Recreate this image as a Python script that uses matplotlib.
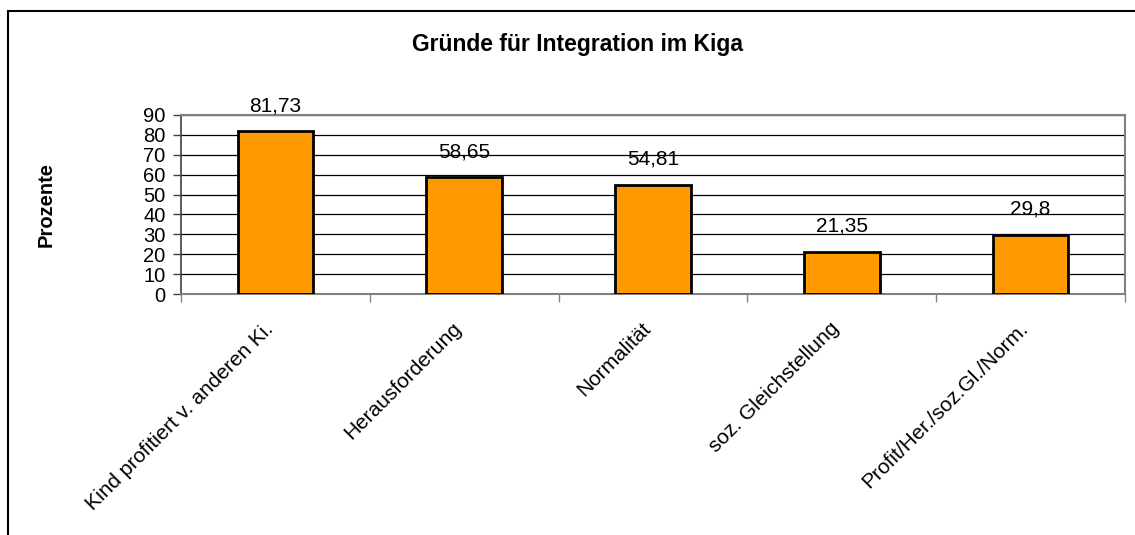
import matplotlib.pyplot as plt
import matplotlib.transforms as mtransforms
from matplotlib.patches import Rectangle

plt.rcParams['font.family'] = ['Liberation Sans', 'DejaVu Sans']

# Daten
kategorien = ['Kind profitiert v. anderen Ki.', 'Herausforderung', 'Normalität',
              'soz. Gleichstellung', 'Profit/Her./soz.Gl./Norm.']
werte = [81.73, 58.65, 54.81, 21.35, 29.8]
wert_labels = ['81,73', '58,65', '54,81', '21,35', '29,8']
y_ticks = [0, 10, 20, 30, 40, 50, 60, 70, 80, 90]

fig = plt.figure(figsize=(11.35, 5.35), dpi=100)
ax = fig.add_axes([181/1135, 1 - 294/535, (1125 - 181)/1135, (294 - 115)/535])

x = range(len(werte))
ax.bar(x, werte, width=0.4, color='#FF9900', edgecolor='black', linewidth=2, zorder=3)

# Gitterlinien
for yt in y_ticks[1:]:
    ax.axhline(yt, color='black', linewidth=0.9, zorder=1)

ax.set_xlim(-0.5, len(werte) - 0.5)
ax.set_ylim(0, 90)
ax.set_yticks(y_ticks)
ax.set_yticklabels([str(v) for v in y_ticks], fontsize=14.5)
ax.tick_params(axis='y', direction='out', length=6, width=1, color='#404040', pad=5)

ax.set_xticks(list(x))
lbls = ax.set_xticklabels(kategorien, fontsize=15, rotation=45, ha='right',
                          va='top', rotation_mode='anchor')
ax.tick_params(axis='x', which='major', length=0, pad=18)
ax.set_xticks([i - 0.5 for i in range(len(werte) + 1)], minor=True)
ax.tick_params(axis='x', which='minor', direction='out', length=6, width=1, color='#808080')
offset = mtransforms.ScaledTranslation(-12/100, 0, fig.dpi_scale_trans)
for t in lbls:
    t.set_transform(t.get_transform() + offset)

for s in ['top', 'right', 'bottom']:
    ax.spines[s].set_color('#808080')
    ax.spines[s].set_linewidth(1.5)
ax.spines['left'].set_color('#404040')
ax.spines['left'].set_linewidth(1.2)

# Wertbeschriftungen
for i, (v, txt) in enumerate(zip(werte, wert_labels)):
    ax.annotate(txt, (i, v), xytext=(0, 14.5), textcoords='offset points',
                ha='center', va='baseline', fontsize=15, zorder=4)

fig.text(577/1135, 1 - 45/535, 'Gründe für Integration im Kiga', ha='center', va='center',
         fontsize=16.5, fontweight='bold')
fig.text(46/1135, 1 - 205/535, 'Prozente', ha='center', va='center', rotation=90,
         fontsize=14.5, fontweight='bold')

# Rahmen
fig.add_artist(Rectangle((8/1135, -0.1), 1.2, 1 - 11/535 + 0.1, transform=fig.transFigure,
                         fill=False, edgecolor='black', linewidth=1.5))

fig.savefig('out.png', dpi=100)
